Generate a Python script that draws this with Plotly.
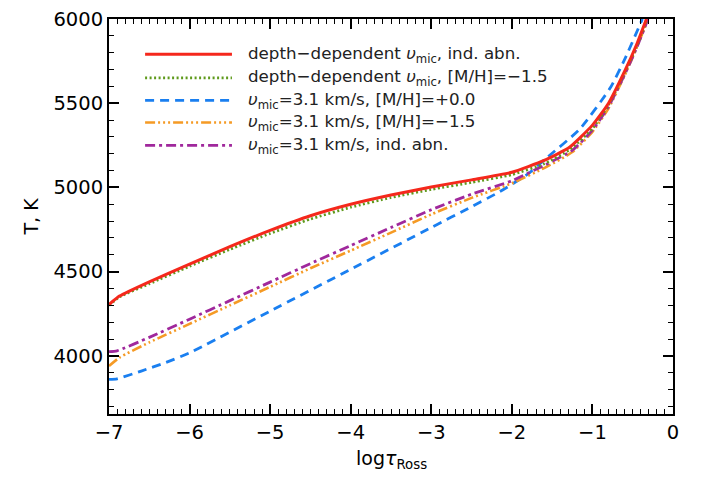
import plotly.graph_objects as go

# ---- data ----
red_x = [-7.0, -6.87, -6.5, -6.0, -5.5, -5.0, -4.5, -4.0, -3.5, -3.0, -2.5, -2.0, -1.6, -1.28, -1.0, -0.8, -0.6, -0.45, -0.33]
red_y = [4305, 4355, 4440, 4545, 4648, 4745, 4832, 4900, 4955, 5003, 5045, 5090, 5160, 5240, 5370, 5500, 5690, 5850, 6000]

green_x = [-7.0, -6.87, -6.5, -6.0, -5.5, -5.0, -4.5, -4.0, -3.5, -3.0, -2.5, -2.0, -1.6, -1.28, -1.0, -0.8, -0.6, -0.45, -0.32]
green_y = [4300, 4350, 4428, 4532, 4632, 4727, 4812, 4882, 4940, 4988, 5030, 5076, 5140, 5225, 5350, 5490, 5680, 5840, 6000]

blue_x = [-7.0, -6.9, -6.6, -6.3, -6.0, -5.0, -4.0, -3.0, -2.5, -2.15, -1.8, -1.57, -1.16, -0.78, -0.6, -0.38]
blue_y = [3860, 3864, 3910, 3960, 4018, 4266, 4514, 4762, 4886, 4975, 5080, 5175, 5345, 5590, 5760, 6000]

orange_x = [-7.0, -6.87, -6.5, -6.0, -5.5, -5.0, -4.5, -4.0, -3.5, -3.0, -2.5, -2.0, -1.57, -1.25, -1.0, -0.8, -0.6, -0.45, -0.31]
orange_y = [3940, 3990, 4080, 4190, 4300, 4410, 4520, 4625, 4732, 4840, 4938, 5025, 5122, 5210, 5330, 5470, 5665, 5830, 6000]

purple_x = [-7.0, -6.9, -6.5, -6.0, -5.5, -5.0, -4.5, -4.0, -3.5, -3.0, -2.5, -2.0, -1.57, -1.25, -1.0, -0.8, -0.6, -0.45, -0.31]
purple_y = [4025, 4030, 4110, 4218, 4328, 4438, 4548, 4655, 4762, 4868, 4960, 5040, 5138, 5220, 5340, 5480, 5670, 5830, 6000]

labels = [
    "depth−dependent <i>υ</i><sub>mic</sub>, ind. abn.",
    "depth−dependent <i>υ</i><sub>mic</sub>, [M/H]=−1.5",
    "<i>υ</i><sub>mic</sub>=3.1 km/s, [M/H]=+0.0",
    "<i>υ</i><sub>mic</sub>=3.1 km/s, [M/H]=−1.5",
    "<i>υ</i><sub>mic</sub>=3.1 km/s, ind. abn.",
]

x_ticks = [-7, -6, -5, -4, -3, -2, -1, 0]
y_ticks = [4000, 4500, 5000, 5500, 6000]

# ---- styles ----
styles = [
    dict(color="#f5281c", width=3, dash="solid"),
    dict(color="#5f9a1c", width=2.7, dash="2px,2.5px"),
    dict(color="#1a7ff0", width=2.8, dash="9px,6px"),
    dict(color="#f59a25", width=2.6, dash="10px,3px,2px,3px,2px,3px,2px,3px"),
    dict(color="#a0289c", width=2.8, dash="10px,4px,3px,4px"),
]

series = [(red_x, red_y), (green_x, green_y), (blue_x, blue_y), (orange_x, orange_y), (purple_x, purple_y)]
order = [2, 3, 4, 1, 0]

fig = go.Figure()
for i in order:
    xs, ys = series[i]
    fig.add_trace(go.Scatter(x=xs, y=ys, mode="lines", line=dict(shape="spline", smoothing=0.5, **styles[i]),
                             name=labels[i], showlegend=False, hoverinfo="skip"))

font_family = "DejaVu Sans, sans-serif"

axis_common = dict(
    showgrid=False, zeroline=False, showline=True, linecolor="black", linewidth=2,
    mirror="ticks", ticks="inside", ticklen=10, tickwidth=1.5, tickcolor="black",
    tickfont=dict(size=19.5, color="black", family=font_family), automargin=False,
    ticklabeloverflow="allow",
)

fig.update_xaxes(range=[-7, 0], tickvals=x_ticks, **axis_common,
                 minor=dict(dtick=0.1, ticks="inside", ticklen=5, tickwidth=1.2, tickcolor="black"))
fig.update_yaxes(range=[3655, 6000], tickvals=y_ticks, **axis_common,
                 minor=dict(dtick=100, tick0=3500, ticks="inside", ticklen=5, tickwidth=1.2, tickcolor="black"))

# axis titles
fig.add_annotation(xref="paper", yref="paper", x=0.5, y=-0.114, text="log<i>τ</i><sub>Ross</sub>", showarrow=False,
                   xanchor="center", yanchor="middle", font=dict(size=19, color="black", family=font_family))
fig.add_annotation(xref="paper", yref="paper", x=-0.14, y=0.5, text="T, K", showarrow=False, textangle=-90,
                   xanchor="center", yanchor="middle", font=dict(size=19, color="black", family=font_family))

# ---- custom legend (long line samples like the original) ----
row_y = [0.911, 0.851, 0.794, 0.738, 0.680]
for k in range(5):
    st = styles[k]
    fig.add_shape(type="line", xref="paper", yref="paper", x0=0.064, x1=0.218, y0=row_y[k], y1=row_y[k],
                  line=dict(color=st["color"], width=st["width"], dash=st["dash"]))
    fig.add_annotation(xref="paper", yref="paper", x=0.243, y=row_y[k], text=labels[k], showarrow=False,
                       xanchor="left", yanchor="middle", font=dict(size=16.7, color="#222", family=font_family))

fig.update_layout(
    width=686, height=465,
    margin=dict(l=101, r=21, t=11, b=59),
    paper_bgcolor="white", plot_bgcolor="white",
    font=dict(family=font_family, color="black"),
)

fig.write_html("out.html")
